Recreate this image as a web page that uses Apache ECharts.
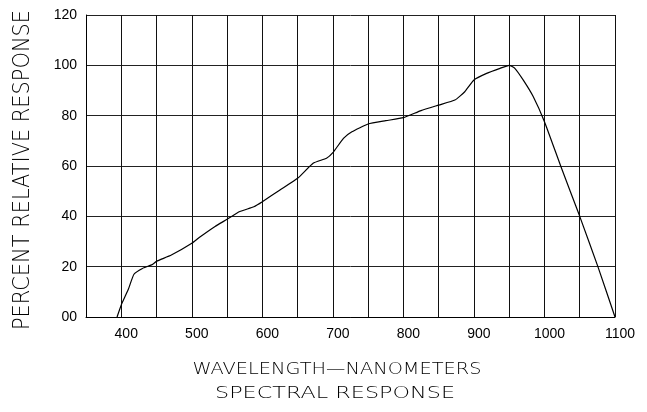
<!DOCTYPE html>
<html>
<head>
<meta charset="utf-8">
<script src="https://cdn.jsdelivr.net/npm/echarts@6/dist/echarts.min.js"></script>
<style>
html,body{margin:0;padding:0;background:#fff;}
#c{width:647px;height:412px;}
</style>
</head>
<body>
<div id="c"></div>
<script>
var wavelengths = [394,400,410,418,430,443,450,471,500,511,533,550,568,588,600,625,650,672,691,700,715,727,750,775,800,825,850,873,887,900,918,937,950,958,970,984,1000,1023,1050,1076,1100];
var responses   = [0,4.8,11,17,19.3,20.7,22.1,24.6,29.3,31.7,36,38.8,41.9,43.8,45.8,50.5,55.1,61.1,63.1,65.3,71.0,73.6,76.7,78,79.2,82,84.2,86.2,89.5,94.2,96.8,98.8,100,98.8,94.1,87.6,77.6,60,40,19.8,0];
var xTickValues = [400,500,600,700,800,900,1000,1100];
var xTickLabels = ['400','500','600','700','800','900','1000','1100'];
var yTickLabels = ['00','20','40','60','80','100','120'];
var yTitle = 'PERCENT RELATIVE RESPONSE';
var xTitle = 'WAVELENGTH\u2014NANOMETERS';
var chartTitle = 'SPECTRAL RESPONSE';

var FONT = '"Liberation Sans", Arial, sans-serif';
var TFONT = '"DejaVu Sans", sans-serif';
var mctx = document.createElement('canvas').getContext('2d');
function fitScale(text, font, target){ mctx.font = font; return target / mctx.measureText(text).width; }
var yFont = '200 23px ' + TFONT, xFont = '200 16.5px ' + TFONT;

var chart = echarts.init(document.getElementById('c'), null, {renderer:'canvas'});
var pts = wavelengths.map(function(w,i){return [w, responses[i]];});

chart.setOption({
  animation:false,
  backgroundColor:'#fff',
  grid:{left:86, top:15, right:32, bottom:95},
  xAxis:{
    type:'value', min:350, max:1100, interval:50,
    axisLine:{show:true, lineStyle:{color:'#000', width:1}},
    axisTick:{show:false},
    splitLine:{show:true, lineStyle:{color:'#111', width:1}},
    axisLabel:{
      fontFamily:FONT, fontSize:14, color:'#000', margin:10, padding:[0,0,0,10],
      formatter:function(v){var i=xTickValues.indexOf(v); return i>=0?xTickLabels[i]:'';}
    }
  },
  yAxis:{
    type:'value', min:0, max:120, interval:20,
    axisLine:{show:true, lineStyle:{color:'#000', width:1}},
    axisTick:{show:false},
    splitLine:{show:true, lineStyle:{color:'#222', width:1}},
    axisLabel:{
      fontFamily:FONT, fontSize:14, color:'#000', margin:9, padding:[3,0,0,0],
      formatter:function(v){return yTickLabels[Math.round(v/20)];}
    }
  },
  series:[{
    type:'line', data:pts, showSymbol:false, smooth:0.15,
    lineStyle:{color:'#000', width:1.2}
  }],
  graphic:[
    {type:'text', x:23, y:170, rotation:Math.PI/2, scaleX:fitScale(yTitle, yFont, 320),
     style:{text:yTitle, font:yFont, fill:'#000', align:'center', verticalAlign:'middle'}},
    {type:'text', x:337, y:370, scaleX:fitScale(xTitle, xFont, 289),
     style:{text:xTitle, font:xFont, fill:'#000', align:'center', verticalAlign:'middle'}},
    {type:'text', x:335, y:394, scaleX:fitScale(chartTitle, xFont, 240),
     style:{text:chartTitle, font:xFont, fill:'#000', align:'center', verticalAlign:'middle'}}
  ]
});
</script>
</body>
</html>
